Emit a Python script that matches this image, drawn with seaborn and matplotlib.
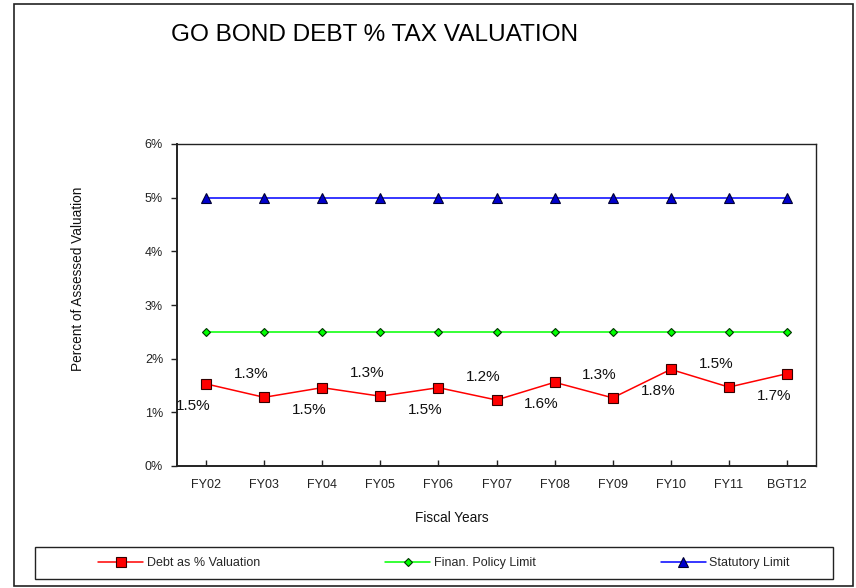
import matplotlib
matplotlib.use("Agg")
import matplotlib.pyplot as plt
from matplotlib.patches import Rectangle
from matplotlib.lines import Line2D
import seaborn as sns
import pandas as pd

# Fiscal years on the category axis
years = ["FY02", "FY03", "FY04", "FY05", "FY06", "FY07",
         "FY08", "FY09", "FY10", "FY11", "BGT12"]
# GO bond debt as a percent of assessed valuation
debt_pct = [1.53, 1.28, 1.46, 1.30, 1.46, 1.23, 1.56, 1.27, 1.80, 1.47, 1.72]
# Financial policy limit and statutory limit (percent)
policy_limit = [2.5] * len(years)
statutory_limit = [5.0] * len(years)

series_names = ["Debt as % Valuation", "Finan. Policy Limit", "Statutory Limit"]
y_ticks = [0, 1, 2, 3, 4, 5, 6]

sns.set_theme(style="white")
plt.rcParams["font.family"] = ["Liberation Sans", "DejaVu Sans"]

W, H = 856, 588
fig = plt.figure(figsize=(W / 100, H / 100), dpi=100)
ax = fig.add_axes([177 / W, 1 - 466 / H, 639 / W, 322 / H])

df = pd.DataFrame({"year": years, "debt": debt_pct,
                   "policy": policy_limit, "statutory": statutory_limit})

sns.lineplot(data=df, x="year", y="statutory", ax=ax, color="#0000FF",
             linewidth=1.1, marker="^", markersize=6.5, markerfacecolor="#0000CC",
             markeredgecolor="#000033", markeredgewidth=0.8, sort=False)
sns.lineplot(data=df, x="year", y="policy", ax=ax, color="#00FF00",
             linewidth=1.1, marker="D", markersize=4.5, markerfacecolor="#00FF00",
             markeredgecolor="#003300", markeredgewidth=0.8, sort=False)
sns.lineplot(data=df, x="year", y="debt", ax=ax, color="#FF0000",
             linewidth=1.1, marker="s", markersize=6.5, markerfacecolor="#FF0000",
             markeredgecolor="#330000", markeredgewidth=0.8, sort=False)

# value labels alternate below / above the debt points
for i, v in enumerate(debt_pct):
    dy = -22 if i % 2 == 0 else 23
    ax.annotate(f"{v:.1f}%", (i, v), xytext=(-13, dy), textcoords="offset pixels",
                ha="center", va="center", fontsize=11, color="#111111")

ax.set_xlim(-0.5, len(years) - 0.5)
ax.set_ylim(0, 6)
ax.set_yticks(y_ticks)
ax.set_yticklabels([f"{t}%" for t in y_ticks])
ax.set_xlabel("")
ax.set_ylabel("")
ax.tick_params(axis="x", direction="in", length=4, width=1, pad=9,
               labelsize=9, colors="#222222")
ax.tick_params(axis="y", direction="out", length=4, width=1, pad=6,
               labelsize=9, colors="#222222")
ax.tick_params(axis="both", bottom=True, left=True)
for s in ax.spines.values():
    s.set_visible(True)
    s.set_color("#222222")
    s.set_linewidth(1.0)
ax.spines["left"].set_linewidth(1.4)
ax.spines["bottom"].set_linewidth(1.4)

# axis titles and chart title
fig.text(78 / W, 1 - 279 / H, "Percent of Assessed Valuation", rotation=90,
         ha="center", va="center", fontsize=9.8, color="#111111")
fig.text(452 / W, 1 - 518 / H, "Fiscal Years", ha="center", va="center",
         fontsize=9.8, color="#111111")
fig.text(171 / W, 1 - 35 / H, "GO BOND DEBT % TAX VALUATION", ha="left",
         va="center", fontsize=17.6, color="#000000")

# legend with its own box
handles = [
    Line2D([], [], color="#FF0000", lw=1.1, marker="s", markersize=6.5,
           markerfacecolor="#FF0000", markeredgecolor="#330000", markeredgewidth=0.8),
    Line2D([], [], color="#00FF00", lw=1.1, marker="D", markersize=4.5,
           markerfacecolor="#00FF00", markeredgecolor="#003300", markeredgewidth=0.8),
    Line2D([], [], color="#0000FF", lw=1.1, marker="^", markersize=6.5,
           markerfacecolor="#0000CC", markeredgecolor="#000033", markeredgewidth=0.8),
]
fig.legend(handles, series_names, ncol=3, loc="center",
           bbox_to_anchor=(444 / W, 1 - 563 / H), frameon=False, fontsize=9,
           handlelength=3.6, handletextpad=0.3, columnspacing=10.0)
fig.add_artist(Rectangle((35 / W, 1 - 579 / H), 798 / W, 32 / H,
                         transform=fig.transFigure, fill=False,
                         edgecolor="#222222", linewidth=1.0))

# outer chart border
fig.add_artist(Rectangle((14 / W, 1 - 586 / H), 839 / W, 582 / H,
                         transform=fig.transFigure, fill=False,
                         edgecolor="#222222", linewidth=1.2))

fig.savefig("out.png", dpi=100, facecolor="white")
